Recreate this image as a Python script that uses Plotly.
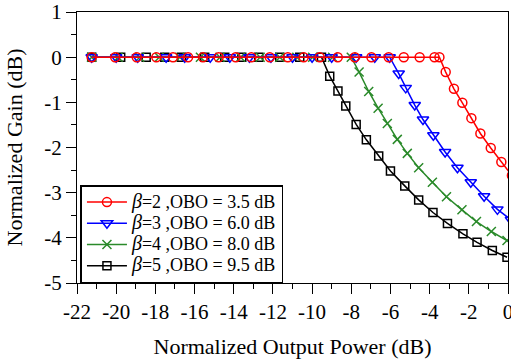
import plotly.graph_objects as go

# ---- data ----
red_x = [-21.25, -20.05, -18.95, -17.95, -17.1, -16.33, -15.57, -14.77, -13.9, -13.1, -12.16,
         -11.24, -10.43, -9.61, -8.69, -7.82, -6.97, -6.09, -5.32, -4.51, -3.75, -3.5,
         -3.18, -2.76, -2.33, -1.87, -1.41, -0.88, -0.34, 0.2]
red_y = [0, 0, 0, 0, 0, 0, 0, 0, 0, 0, 0,
         0, 0, 0, 0, 0, 0, 0, 0, 0, 0, 0,
         -0.33, -0.70, -1.01, -1.35, -1.69, -2.01, -2.32, -2.62]

blue_x = [-21.25, -20.0, -18.9, -17.45, -16.5, -15.2, -14.2, -13.2, -12.1, -11.0, -10.0,
          -9.0, -7.75, -6.8, -6.04,
          -5.58, -5.22, -4.76, -4.34, -3.81, -3.21, -2.58, -1.90, -1.22, -0.54, 0.15]
blue_y = [0, 0, 0, 0, 0, 0, 0, 0, 0, 0, 0,
          0, 0, 0, 0,
          -0.36, -0.68, -1.06, -1.38, -1.73, -2.10, -2.45, -2.77, -3.08, -3.37, -3.60]

green_x = [-21.25, -19.9, -18.8, -17.8, -16.75, -15.7, -14.7, -13.65, -12.65, -11.65, -10.78,
           -9.97, -8.95, -8.0,
           -7.6, -7.11, -6.63, -6.16, -5.65, -5.14, -4.56, -3.86, -3.14, -2.35, -1.61, -0.85, -0.05]
green_y = [0, 0, 0, 0, 0, 0, 0, 0, 0, 0, 0,
           0, 0, 0,
           -0.33, -0.76, -1.13, -1.47, -1.82, -2.13, -2.45, -2.77, -3.09, -3.38, -3.64, -3.86, -4.06]

black_x = [-21.25, -19.77, -18.47, -17.52, -16.66, -15.48, -14.46, -13.59, -12.72, -11.65, -10.63,
           -9.52,
           -9.1, -8.68, -8.28, -7.75, -7.23, -6.6, -6.0, -5.27, -4.56, -3.83, -3.09, -2.30, -1.58,
           -0.80, -0.05]
black_y = [0, 0, 0, 0, 0, 0, 0, 0, 0, 0, 0,
           0,
           -0.42, -0.75, -1.08, -1.49, -1.83, -2.19, -2.52, -2.85, -3.16, -3.44, -3.68, -3.91, -4.10,
           -4.28, -4.43]

betas = ["2", "3", "4", "5"]
obos = ["3.5", "6.0", "8.0", "9.5"]

x_ticks = [-22, -20, -18, -16, -14, -12, -10, -8, -6, -4, -2, 0]
x_ticktext = ["-22", "-20", "-18", "-16", "-14", "-12", "-10", "-8", "-6", "-4", "-2", "0"]
y_ticks = [1, 0, -1, -2, -3, -4, -5]
y_ticktext = ["1", "0", "-1", "-2", "-3", "-4", "-5"]

FONT = "Liberation Serif"


def label(b, o):
    return ('<span style="font-size:18px"><span style="font-size:20px"><i>β</i></span>'
            f'={b} ,OBO = {o} dB</span>')


series = [
    (black_x, black_y, label(betas[3], obos[3]), "#000000", "square-open", 8, 4),
    (green_x, green_y, label(betas[2], obos[2]), "#2a8a2a", "x-thin-open", 9, 3),
    (blue_x, blue_y, label(betas[1], obos[1]), "#0000ff", "triangle-down-open", 10, 2),
    (red_x, red_y, label(betas[0], obos[0]), "#ff0000", "circle-open", 9, 1),
]

fig = go.Figure()
for xs, ys, name, col, sym, size, rank in series:
    fig.add_trace(go.Scatter(
        x=xs, y=ys, name=name, mode="lines+markers",
        line=dict(color=col, width=1.5),
        marker=dict(symbol=sym, size=size, color=col, line=dict(color=col, width=1.5)),
        legendrank=rank,
    ))

fig.update_layout(
    width=511, height=362,
    margin=dict(l=77, r=3, t=12, b=79),
    paper_bgcolor="white", plot_bgcolor="white",
    font=dict(family=FONT, size=21, color="black"),
    showlegend=True,
    legend=dict(x=0.008, y=0.0, xanchor="left", yanchor="bottom",
                bgcolor="white", bordercolor="black", borderwidth=1.5,
                font=dict(family=FONT, size=14, color="black"),
                tracegroupgap=0, itemwidth=40),
    xaxis=dict(range=[-22, 0], tickvals=x_ticks, ticktext=x_ticktext, ticks="outside",
               ticklen=10, tickwidth=1, automargin=False, ticklabeloverflow="allow",
               tickcolor="black", showline=True, linecolor="black", linewidth=1, mirror=True,
               showgrid=False, zeroline=False,
               minor=dict(ticks="outside", ticklen=5, dtick=1, tickcolor="black", showgrid=False),
               title=dict(text="Normalized Output Power (dB)", font=dict(family=FONT, size=22))),
    yaxis=dict(range=[-5, 1], tickvals=y_ticks, ticktext=y_ticktext, ticks="outside",
               ticklen=10, tickwidth=1, automargin=False, ticklabeloverflow="allow",
               tickcolor="black", showline=True, linecolor="black", linewidth=1, mirror=True,
               showgrid=False, zeroline=False,
               minor=dict(ticks="outside", ticklen=5, dtick=0.5, tickcolor="black", showgrid=False),
               title=dict(text="Normalized Gain (dB)", font=dict(family=FONT, size=22))),
)

fig.write_html("out.html", config={"displayModeBar": False},
               post_script="document.body.style.margin='0';document.body.style.overflow='hidden';")
